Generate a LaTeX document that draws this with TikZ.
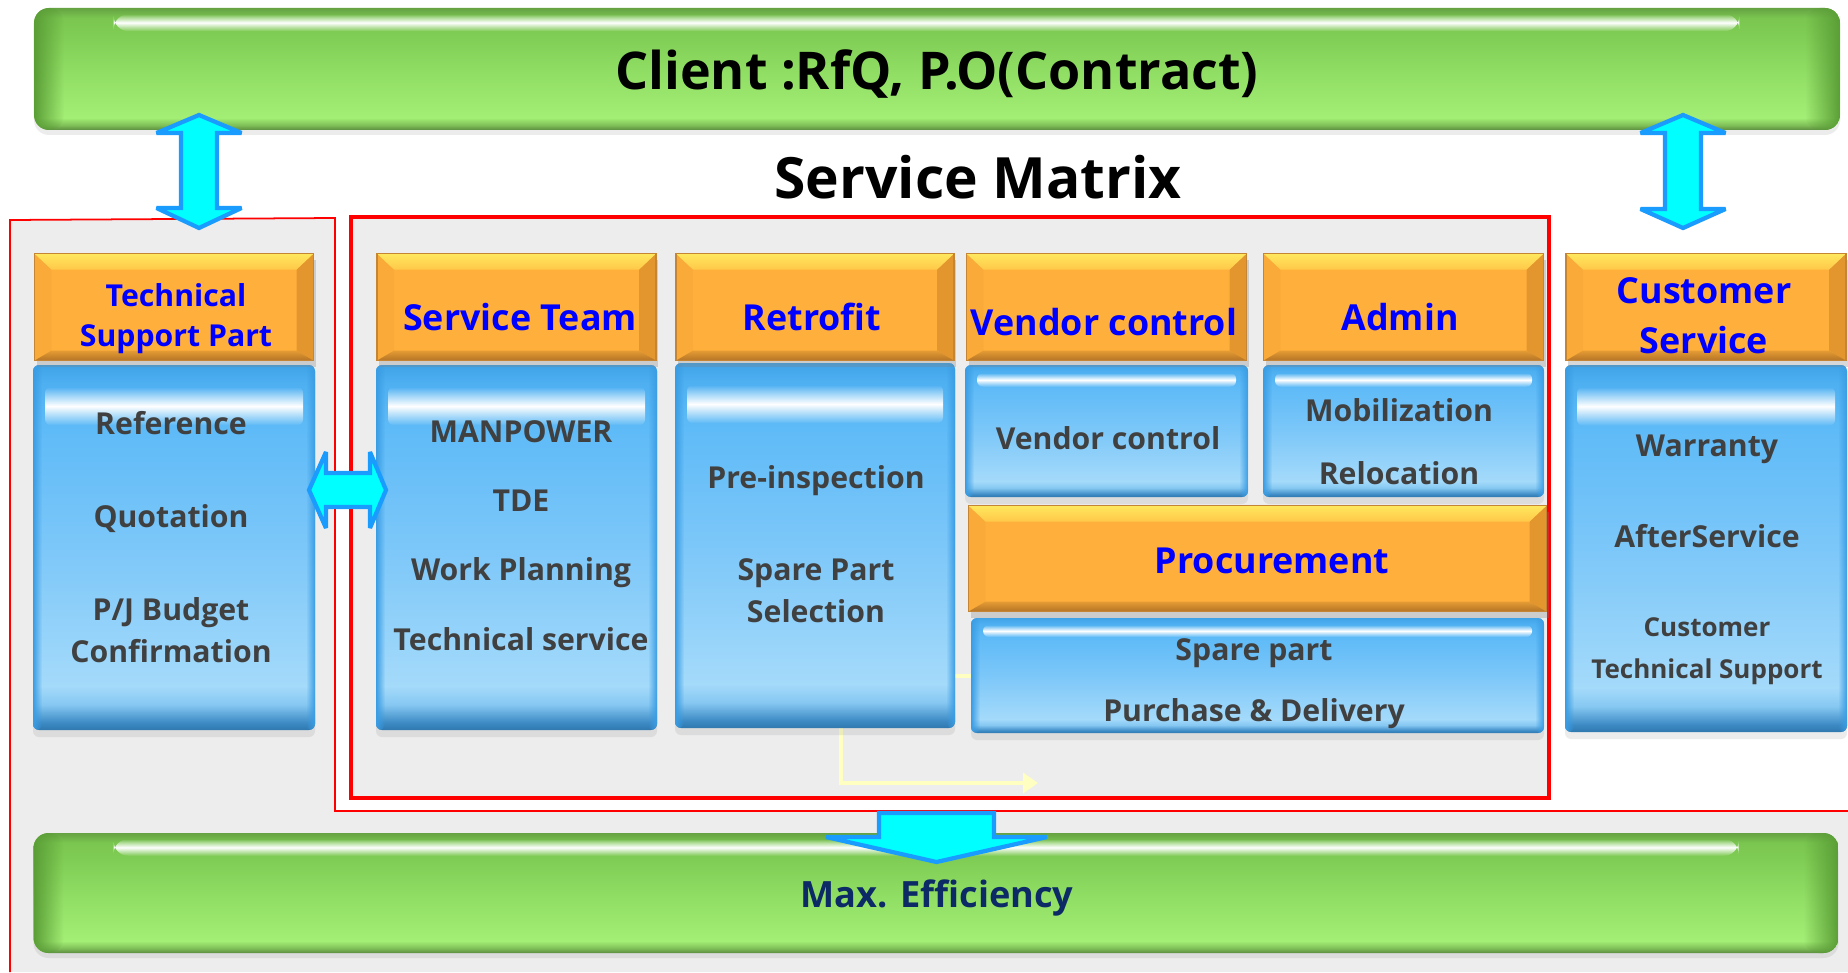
\documentclass[tikz,border=0pt]{standalone}
\usepackage{fontspec}
\setmainfont{Open Sans}
\usepackage{tikz}
\usetikzlibrary{arrows.meta,shapes,positioning,calc,fadings,shadows}

% colours
\definecolor{panelgray}{HTML}{EDEDED}
\definecolor{headorange}{HTML}{FFB03C}
\definecolor{headtop}{HTML}{FFE85E}
\definecolor{headtopb}{HTML}{FFC848}
\definecolor{headleft}{HTML}{F9AA38}
\definecolor{headright}{HTML}{E3952E}
\definecolor{headbotA}{HTML}{E59C34}
\definecolor{headbotB}{HTML}{B57426}
\definecolor{headedge}{HTML}{C48634}
\definecolor{headtext}{HTML}{0000FF}
\definecolor{bodytext}{HTML}{404040}
\definecolor{bodyside}{HTML}{3A9DE4}
\definecolor{navytext}{HTML}{0B2A66}
\definecolor{arrowfill}{HTML}{00FFFF}
\definecolor{arrowline}{HTML}{1A9CFF}
\definecolor{traceyellow}{HTML}{FFFFC2}
\definecolor{barside}{HTML}{5A9E36}
% blue body, bottom to top
\definecolor{bodyA}{HTML}{2F78AE}
\definecolor{bodyB}{HTML}{3C8AC4}
\definecolor{bodyC}{HTML}{86C8F2}
\definecolor{bodyD}{HTML}{A4DAFA}
\definecolor{bodyE}{HTML}{7CC7F9}
\definecolor{bodyF}{HTML}{5DBAF7}
\definecolor{bodyG}{HTML}{4EB0F1}
\definecolor{bodyH}{HTML}{3FA3E7}
% green bar, bottom to top
\definecolor{barA}{HTML}{5B8C3F}
\definecolor{barB}{HTML}{7FBF58}
\definecolor{barC}{HTML}{A3EE75}
\definecolor{barD}{HTML}{92DF66}
\definecolor{barE}{HTML}{7FCC54}
\definecolor{barF}{HTML}{7AC650}
\definecolor{barG}{HTML}{65A242}

% glossy fills (the path sits between 25bp and 75bp)
\pgfdeclareverticalshading{bodyfill}{100bp}{color(0bp)=(bodyA); color(25bp)=(bodyA); color(26bp)=(bodyB); color(28.5bp)=(bodyC); color(31bp)=(bodyD); color(50bp)=(bodyE); color(67bp)=(bodyF); color(72.5bp)=(bodyG); color(75bp)=(bodyH); color(100bp)=(bodyH)}
\pgfdeclareverticalshading{barfill}{100bp}{color(0bp)=(barA); color(25bp)=(barA); color(27bp)=(barB); color(30bp)=(barC); color(47.5bp)=(barD); color(65bp)=(barE); color(71bp)=(barF); color(75bp)=(barG); color(100bp)=(barG)}

\tikzfading[name=glintfade, top color=transparent!100, bottom color=transparent!100, middle color=transparent!0]
\tikzfading[name=fadeleft, left color=transparent!0, right color=transparent!100]
\tikzfading[name=faderight, left color=transparent!100, right color=transparent!0]

\tikzset{
  bodybox/.style={shade, shading=bodyfill, rounded corners=0.06cm, inner sep=0pt,
    drop shadow={shadow xshift=0cm, shadow yshift=-0.07cm, opacity=0.15},
    path picture={
      \coordinate (nw) at (path picture bounding box.north west);
      \coordinate (ne) at (path picture bounding box.north east);
      \coordinate (sw) at (path picture bounding box.south west);
      \coordinate (se) at (path picture bounding box.south east);
      \fill[white, path fading=glintfade] ($(nw)!0.06!(sw)+(0.12,0)$) rectangle ($(ne)!0.165!(se)+(-0.12,0)$);
      \fill[bodyside, path fading=fadeleft] (sw) rectangle ($(nw)+(0.09,0)$);
      \fill[bodyside, path fading=faderight] ($(se)+(-0.09,0)$) rectangle (ne);
    }},
  headbox/.style={fill=headorange, draw=headedge, line width=0.4pt, inner sep=0pt,
    minimum height=1.07cm,
    drop shadow={shadow xshift=0.02cm, shadow yshift=-0.06cm, opacity=0.3},
    path picture={
      \coordinate (nw) at (path picture bounding box.north west);
      \coordinate (ne) at (path picture bounding box.north east);
      \coordinate (sw) at (path picture bounding box.south west);
      \coordinate (se) at (path picture bounding box.south east);
      \fill[headleft] (nw) -- ++(0.17,-0.16) -- ($(sw)+(0.17,0.1)$) -- (sw) -- cycle;
      \fill[headright] (ne) -- ++(-0.17,-0.16) -- ($(se)+(-0.17,0.1)$) -- (se) -- cycle;
      \shade[top color=headtop, bottom color=headtopb] (nw) -- (ne) -- ++(-0.17,-0.16) -- ($(nw)+(0.17,-0.16)$) -- cycle;
      \shade[top color=headbotA, bottom color=headbotB] (sw) -- ++(0.17,0.1) -- ($(se)+(-0.17,0.1)$) -- (se) -- cycle;
    }},
  greenbar/.style={shade, shading=barfill, rounded corners=0.15cm, inner sep=0pt,
    drop shadow={shadow xshift=0cm, shadow yshift=-0.05cm, opacity=0.15},
    path picture={
      \coordinate (nw) at (path picture bounding box.north west);
      \coordinate (ne) at (path picture bounding box.north east);
      \coordinate (sw) at (path picture bounding box.south west);
      \coordinate (se) at (path picture bounding box.south east);
      \fill[white, path fading=glintfade] ($(nw)!0.05!(sw)+(0.8,0)$) rectangle ($(ne)!0.19!(se)+(-1.0,0)$);
      \fill[barside, path fading=fadeleft] (sw) rectangle ($(nw)+(0.3,0)$);
      \fill[barside, path fading=faderight] ($(se)+(-0.35,0)$) rectangle (ne);
    }},
  headtxt/.style={text=headtext, font=\fontsize{10.2}{12.5}\selectfont\bfseries, align=center, inner sep=0pt},
  bodytxt/.style={text=bodytext, font=\fontsize{8.6}{12}\selectfont\bfseries, align=center, inner sep=0pt},
  blockarrow/.style={fill=arrowfill, draw=arrowline, line width=1.2pt, line join=miter, miter limit=2.5},
  trace/.style={draw=traceyellow, line width=1.2pt}
}

\begin{document}
\begin{tikzpicture}[every node/.style={font=\bfseries}]
    \useasboundingbox[fill=white] (0,0) rectangle (18.48,9.72);

    % Panels
    \fill[panelgray] (0.10,0) -- (0.10,7.52) -- (3.35,7.54) -- (3.35,1.61) -- (18.48,1.61) -- (18.48,0) -- cycle;
    \draw[red, line width=0.5pt] (18.48,1.61) -- (3.35,1.61) -- (3.35,7.54) -- (0.10,7.52) -- (0.10,0);
    \node[draw=red, line width=1pt, fill=panelgray, minimum width=11.98cm, minimum height=5.81cm] (svcframe) at (9.50,4.645) {};

    % Client and result bars
    \node[greenbar, minimum width=18.06cm, minimum height=1.22cm] (client) at (9.37,9.03) {};
    \node[greenbar, minimum width=18.05cm, minimum height=1.20cm] (maxeff) at (9.36,0.79) {};
    \node[font=\fontsize{14.8}{18}\selectfont\bfseries, inner sep=0pt] (clientlbl) at (9.37,8.98) {Client :RfQ, P.O(Contract)};
    \node[text=navytext, font=\fontsize{10.3}{13}\selectfont\bfseries, inner sep=0pt] (maxefflbl) at (9.37,0.74) {Max. Efficiency};

    % Title
    \node[font=\fontsize{16.2}{20}\selectfont\bfseries] (title) at (9.78,7.95) {Service Matrix};

    % Faint flow lines
    \coordinate (selfoot) at (8.41,3.47);
    \coordinate (flowend) at (10.38,1.89);
    \coordinate (selmid) at (8.41,2.96);
    \coordinate (flowmid) at (10.33,2.96);
    \draw[trace, -{Triangle[length=0.15cm,width=0.2cm]}] (selfoot) |- (flowend);
    \draw[trace, -{Triangle[length=0.15cm,width=0.2cm]}] (selmid) -- (flowmid);

    % Bodies
    \node[bodybox, minimum width=2.82cm, minimum height=3.65cm] (tspbody) at (1.74,4.245) {};
    \node[bodybox, minimum width=2.81cm, minimum height=3.65cm] (teambody) at (5.165,4.245) {};
    \node[bodybox, minimum width=2.80cm, minimum height=3.65cm] (retrobody) at (8.15,4.265) {};
    \node[bodybox, minimum width=2.83cm, minimum height=1.32cm] (vendorbody) at (11.065,5.41) {};
    \node[bodybox, minimum width=2.81cm, minimum height=1.32cm] (adminbody) at (14.035,5.41) {};
    \node[bodybox, minimum width=5.73cm, minimum height=1.15cm] (sparebody) at (12.575,2.965) {};
    \node[bodybox, minimum width=2.82cm, minimum height=3.67cm] (custbody) at (17.06,4.235) {};

    % Headers
    \node[headbox, minimum width=2.79cm, above=0.03cm of tspbody] (tsp) {};
    \node[headbox, minimum width=2.79cm, above=0.03cm of teambody] (team) {};
    \node[headbox, minimum width=2.78cm, above=0.01cm of retrobody] (retro) {};
    \node[headbox, minimum width=2.80cm, above=0.03cm of vendorbody] (vendor) {};
    \node[headbox, minimum width=2.80cm, above=0.03cm of adminbody] (admin) {};
    \node[headbox, minimum width=2.80cm, above=0.03cm of custbody] (cust) {};
    \node[headbox, minimum width=5.78cm, minimum height=1.06cm, above=0.05cm of sparebody] (proc) {};

    % Header labels
    \node[headtxt, font=\fontsize{8.6}{11.4}\selectfont\bfseries] (tsplbl) at (1.76,6.53) {Technical\\Support Part};
    \node[headtxt] (teamlbl) at (5.20,6.55) {Service Team};
    \node[headtxt] (retrolbl) at (8.12,6.55) {Retrofit};
    \node[headtxt] (vendorlbl) at (11.04,6.50) {Vendor control};
    \node[headtxt] (adminlbl) at (14.00,6.55) {Admin};
    \node[headtxt, font=\fontsize{10.2}{14.2}\selectfont\bfseries] (custlbl) at (17.04,6.56) {Customer\\Service};
    \node[headtxt] (proclbl) at (12.72,4.11) {Procurement};

    % Body texts
    \node[bodytxt] (tsptxt) at (1.71,4.35) {Reference\\[0.51cm]Quotation\\[0.51cm]P/J Budget\\Confirmation};
    \node[bodytxt] (teamtxt) at (5.21,4.365) {MANPOWER\\[0.27cm]TDE\\[0.27cm]Work Planning\\[0.27cm]Technical service};
    \node[bodytxt] (retrotxt) at (8.16,4.28) {Pre-inspection\\[0.50cm]Spare Part\\Selection};
    \node[bodytxt] (vendortxt) at (11.08,5.34) {Vendor control};
    \node[bodytxt] (admintxt) at (13.99,5.305) {Mobilization\\[0.21cm]Relocation};
    \node[bodytxt] (sparetxt) at (12.54,2.88) {Spare part\\[0.19cm]Purchase \& Delivery};
    \node[bodytxt] (custtxt) at (17.07,4.12) {Warranty\\[0.48cm]AfterService\\[0.47cm]{\fontsize{7.4}{11.6}\selectfont Customer}\\{\fontsize{7.4}{11.6}\selectfont Technical Support}};

    % Block arrows
    \draw[blockarrow] (1.99,8.57) -- (2.415,8.39) -- (2.17,8.39) -- (2.17,7.64) -- (2.415,7.64) -- (1.99,7.44)
        -- (1.565,7.64) -- (1.81,7.64) -- (1.81,8.39) -- (1.565,8.39) -- cycle;
    \draw[blockarrow] (16.83,8.57) -- (17.255,8.39) -- (17.01,8.39) -- (17.01,7.63) -- (17.255,7.63) -- (16.83,7.44)
        -- (16.405,7.63) -- (16.65,7.63) -- (16.65,8.39) -- (16.405,8.39) -- cycle;
    \draw[blockarrow] (3.09,4.82) -- (3.26,5.20) -- (3.26,4.99) -- (3.70,4.99) -- (3.70,5.20) -- (3.86,4.82)
        -- (3.70,4.44) -- (3.70,4.65) -- (3.26,4.65) -- (3.26,4.44) -- cycle;
    \draw[blockarrow] (8.79,1.59) -- (9.94,1.59) -- (9.94,1.35) -- (10.47,1.35) -- (9.365,1.10) -- (8.26,1.35)
        -- (8.79,1.35) -- cycle;

\end{tikzpicture}
\end{document}
